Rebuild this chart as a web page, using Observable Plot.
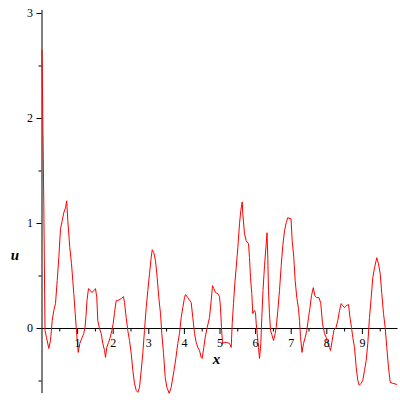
<!DOCTYPE html>
<html><head><meta charset="utf-8">
<script src="https://cdn.jsdelivr.net/npm/d3@7"></script>
<script src="https://cdn.jsdelivr.net/npm/@observablehq/plot@0.6"></script>
<style>body{margin:0;background:#fff} svg{display:block}</style>
</head><body><div id="chart"></div>
<script>
const xs = [0.000,0.051,0.084,0.126,0.191,0.239,0.287,0.331,0.379,0.427,0.472,0.520,0.567,0.612,0.660,0.694,0.725,0.781,0.829,0.865,0.893,0.933,0.961,0.989,1.017,1.062,1.129,1.174,1.208,1.236,1.264,1.306,1.404,1.503,1.539,1.567,1.615,1.663,1.708,1.756,1.784,1.820,1.868,1.916,1.961,2.000,2.037,2.084,2.129,2.225,2.289,2.317,2.365,2.410,2.458,2.506,2.551,2.598,2.646,2.691,2.739,2.787,2.831,2.879,2.927,2.972,3.020,3.067,3.096,3.140,3.188,3.236,3.281,3.329,3.365,3.413,3.461,3.506,3.573,3.629,3.708,3.764,3.815,3.862,3.910,3.955,4.003,4.031,4.096,4.191,4.236,4.284,4.331,4.376,4.424,4.472,4.500,4.545,4.584,4.640,4.705,4.753,4.789,4.826,4.874,4.938,4.986,5.014,5.042,5.070,5.118,5.191,5.267,5.315,5.343,5.379,5.416,5.455,5.500,5.548,5.584,5.624,5.640,5.688,5.736,5.801,5.829,5.857,5.893,5.921,5.969,5.997,6.017,6.045,6.081,6.110,6.146,6.174,6.208,6.250,6.298,6.320,6.343,6.362,6.390,6.419,6.455,6.503,6.551,6.579,6.624,6.671,6.719,6.764,6.812,6.860,6.904,6.994,7.028,7.073,7.112,7.157,7.205,7.233,7.261,7.303,7.346,7.393,7.438,7.486,7.528,7.570,7.621,7.663,7.711,7.781,7.831,7.879,7.935,7.983,8.028,8.076,8.104,8.152,8.197,8.258,8.309,8.357,8.404,8.449,8.497,8.545,8.610,8.652,8.694,8.730,8.778,8.826,8.871,8.910,8.966,9.011,9.059,9.107,9.152,9.199,9.247,9.292,9.340,9.404,9.452,9.500,9.545,9.593,9.640,9.685,9.733,9.781,9.854,9.958];
const us = [2.650,1.178,-0.019,-0.085,-0.190,-0.114,0.076,0.171,0.237,0.456,0.674,0.950,1.026,1.102,1.149,1.216,1.026,0.769,0.617,0.456,0.332,0.142,0.009,-0.114,-0.228,-0.142,-0.085,-0.047,0.009,0.123,0.266,0.380,0.342,0.380,0.294,0.076,0.000,-0.047,-0.142,-0.209,-0.275,-0.180,-0.133,-0.085,-0.019,0.047,0.152,0.266,0.266,0.285,0.304,0.247,0.104,-0.019,-0.114,-0.237,-0.399,-0.522,-0.589,-0.608,-0.560,-0.399,-0.237,-0.019,0.199,0.361,0.522,0.674,0.750,0.722,0.646,0.484,0.294,0.142,-0.047,-0.237,-0.465,-0.560,-0.617,-0.560,-0.399,-0.275,-0.142,-0.047,0.104,0.199,0.294,0.323,0.294,0.247,0.104,-0.047,-0.133,-0.180,-0.209,-0.275,-0.285,-0.180,-0.085,0.009,0.104,0.266,0.408,0.380,0.342,0.332,0.304,0.199,0.009,-0.142,-0.133,-0.133,-0.142,-0.180,0.047,0.237,0.427,0.579,0.769,0.997,1.121,1.206,1.092,0.902,0.836,0.807,0.674,0.484,0.332,0.142,0.171,0.152,0.047,-0.047,-0.180,-0.285,-0.142,0.104,0.361,0.598,0.807,0.912,0.674,0.361,0.142,-0.019,-0.057,-0.114,-0.047,0.009,0.171,0.361,0.598,0.788,0.931,1.007,1.054,1.045,0.836,0.674,0.456,0.294,0.190,0.076,-0.076,-0.228,-0.142,-0.085,-0.019,0.104,0.199,0.313,0.389,0.313,0.294,0.294,0.237,0.047,-0.047,-0.085,-0.142,-0.180,-0.209,-0.114,-0.019,0.009,0.076,0.171,0.237,0.218,0.199,0.218,0.228,0.104,0.009,-0.085,-0.180,-0.370,-0.494,-0.541,-0.522,-0.494,-0.399,-0.304,-0.142,0.104,0.294,0.484,0.579,0.674,0.617,0.522,0.332,0.142,0.009,-0.180,-0.370,-0.513,-0.522,-0.532];
const xMajor = [1,2,3,4,5,6,7,8,9];
const xMinor = [0.5,1.5,2.5,3.5,4.5,5.5,6.5,7.5,8.5,9.5];
const yMajor = [0,1,2,3];
const yMinor = [-0.5,0.5,1.5,2.5];
const xName = "x";
const yName = "u";

const data = xs.map((x, i) => ({x, u: us[i]}));

const chart = Plot.plot({
  width: 400, height: 400,
  marginLeft: 41.5, marginRight: 2.5, marginTop: 9.85, marginBottom: 6.9,
  x: {domain: [0, 10], axis: null},
  y: {domain: [-0.62, 3.03], axis: null},
  style: {background: "white", fontFamily: "'Liberation Serif', serif", color: "black"},
  marks: [
    Plot.ruleY([0], {x1: 0, x2: 10, stroke: "black"}),
    Plot.ruleX([0], {stroke: "black"}),
    Plot.ruleX(xMajor, {x: d => d, y1: 0, y2: 0, insetBottom: -6, stroke: "black"}),
    Plot.ruleX(xMinor, {x: d => d, y1: 0, y2: 0, insetBottom: -3.5, stroke: "black"}),
    Plot.ruleY(yMajor, {y: d => d, x1: 0, x2: 0, insetLeft: -5, stroke: "black"}),
    Plot.ruleY(yMinor, {y: d => d, x1: 0, x2: 0, insetLeft: -3, stroke: "black"}),
    Plot.line(data, {x: "x", y: "u", stroke: "red", strokeWidth: 1}),
    Plot.text(xMajor, {x: d => d, y: 0, dy: 15, text: d => String(d), fontSize: 12, fill: "black"}),
    Plot.text(yMajor, {x: 0, y: d => d, dx: -9, textAnchor: "end", text: d => String(d), fontSize: 12, fill: "black"}),
    Plot.text([xName], {x: 4.9, y: 0, dy: 31, text: d => d, fontSize: 15, fontWeight: "bold", fontStyle: "italic", fill: "black"}),
    Plot.text([yName], {x: 0, y: 0.7, dx: -27, text: d => d, fontSize: 15, fontWeight: "bold", fontStyle: "italic", fill: "black"})
  ]
});
document.getElementById("chart").append(chart);
</script>
</body></html>
